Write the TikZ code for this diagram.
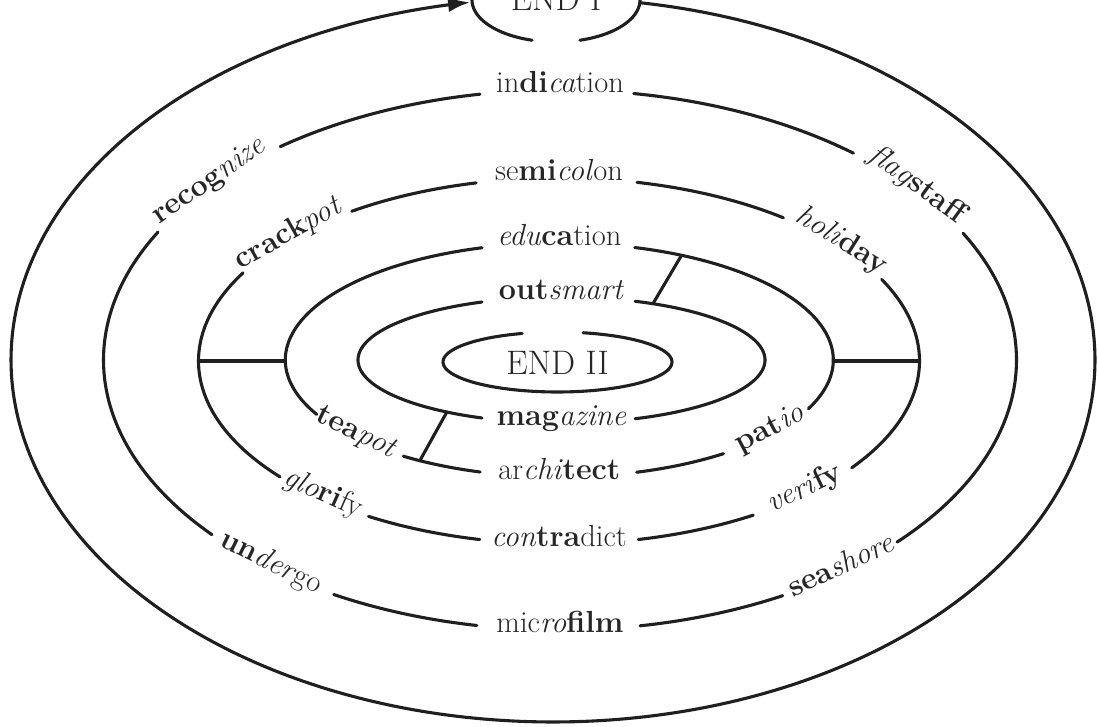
\documentclass[tikz,border=0pt]{standalone}
\usepackage{fontspec}
\usetikzlibrary{arrows.meta}
\newcommand{\wb}[1]{\textbf{#1}}
\newcommand{\wi}[1]{\textit{#1}}
\newcommand{\ringarc}[6]{\draw[ring] plot[domain=#5:#6, samples=100] ({#1+#3*cos(\x)},{#2-#4*sin(\x)});}
\newcommand{\ringpt}[6]{\coordinate (#1) at ({#2+#4*cos(#6)},{#3-#5*sin(#6)});}
\newcommand{\wordon}[7]{%
  \pgfmathsetmacro{\wdx}{#2+#4*cos(#6)}%
  \pgfmathsetmacro{\wdy}{#3-#5*sin(#6)}%
  \pgfmathsetmacro{\wdr}{atan(-#5*cos(#6)/(#4*sin(#6)))}%
  \node[word, rotate=\wdr] (#1) at (\wdx,\wdy) {#7};}
\begin{document}
\begin{tikzpicture}[x=1pt,y=-1pt,
  ring/.style={line width=3.1pt, line cap=round, black!88},
  word/.style={inner sep=0pt, text height=0.6em, text depth=0.16em, text=black!85,
    font=\fontsize{30.5}{32}\selectfont},
  endtext/.style={inner sep=0pt, text=black!85, font=\fontsize{34}{36}\selectfont}]
\useasboundingbox (0,0) rectangle (1098,727);
\clip (0,0) rectangle (1098,727);

% END I
\ringarc{556}{0}{84}{42}{-73.4}{253.4}
\node[endtext] (end1) at (556,-1) {END I};

% outer ring with arrow into END I
\draw[ring, {Latex[length=22pt,width=15pt]}-] plot[domain=98.8:440.8, samples=360]
  ({553+542*cos(\x)},{360-362*sin(\x)});

% ring 2
\ringarc{560}{360}{456.5}{270}{50}{80.7}
\ringarc{560}{360}{456.5}{270}{100.1}{127.8}
\ringarc{560}{360}{456.5}{270}{151.7}{220.3}
\ringarc{560}{360}{456.5}{270}{240.3}{259.5}
\ringarc{560}{360}{456.5}{270}{280.1}{299.2}
\ringarc{560}{360}{456.5}{270}{317.6}{388}
\wordon{ind}{560}{360}{456.5}{270}{90}{in\wb{di}\wi{ca}tion}
\wordon{rec}{560}{360}{456.5}{270}{139.7}{\wb{recog}\wi{nize}}
\wordon{und}{560}{360}{456.5}{270}{230.3}{\wb{un}\wi{der}go}
\wordon{mic}{560}{360}{456.5}{270}{270}{mic\wi{ro}\wb{film}}
\wordon{sea}{560}{360}{456.5}{270}{308.4}{\wb{sea}\wi{shore}}
\wordon{fla}{560}{360}{456.5}{270}{39}{\wi{flag}\wb{staff}}

% ring 3
\ringarc{559}{361}{360.5}{183}{51.5}{77.5}
\ringarc{559}{361}{360.5}{183}{103.3}{125.1}
\ringarc{559}{361}{360.5}{183}{151.2}{219.3}
\ringarc{559}{361}{360.5}{183}{238.1}{257.3}
\ringarc{559}{361}{360.5}{183}{282.7}{302.6}
\ringarc{559}{361}{360.5}{183}{324.3}{386.5}
\wordon{sem}{559}{361}{360.5}{183}{90}{se\wb{mi}\wi{col}on}
\wordon{cra}{559}{361}{360.5}{183}{138}{\wb{crack}\wi{pot}}
\wordon{glo}{559}{361}{360.5}{183}{228.7}{\wi{glo}\wb{ri}fy}
\wordon{con}{559}{361}{360.5}{183}{270}{\wi{con}\wb{tra}dict}
\wordon{ver}{559}{361}{360.5}{183}{313.5}{\wi{veri}\wb{fy}}
\wordon{hol}{559}{361}{360.5}{183}{39}{\wi{holi}\wb{day}}

% ring 4
\ringarc{559.3}{360}{274}{117}{106.4}{207.7}
\ringarc{559.3}{360}{274}{117}{235.3}{253.2}
\ringarc{559.3}{360}{274}{117}{286.4}{306.8}
\ringarc{559.3}{360}{274}{117}{335.4}{434}
\wordon{edu}{559.3}{360}{274}{117}{90}{\wi{edu}\wb{ca}tion}
\wordon{tea}{559.3}{360}{274}{117}{221.5}{\wb{tea}\wi{pot}}
\wordon{arc}{559.3}{360}{274}{117}{270}{ar\wi{chi}\wb{tect}}
\wordon{pat}{559.3}{360}{274}{117}{321}{\wb{pat}\wi{io}}

% ring 5
\ringarc{561.5}{360}{203.5}{63}{113}{247}
\ringarc{561.5}{360}{203.5}{63}{291.2}{428.8}
\wordon{out}{561.5}{360}{203.5}{63}{90}{\wb{out}\wi{smart}}
\wordon{mag}{561.5}{360}{203.5}{63}{270}{\wb{mag}\wi{azine}}

% END II
\ringarc{557.5}{362}{114.5}{30}{108}{437.1}
\node[endtext] (end2) at (557.5,362.5) {END II};

% connectors
\ringpt{l3}{559}{361}{360.5}{183}{180}
\ringpt{l4}{559.3}{361}{274}{117}{180}
\ringpt{r4}{559.3}{361}{274}{117}{0}
\ringpt{r3}{559}{361}{360.5}{183}{0}
\ringpt{d4}{559.3}{360}{274}{117}{63.5}
\ringpt{d5}{561.5}{360}{203.5}{63}{63.3}
\ringpt{e5}{561.5}{360}{203.5}{63}{235.7}
\ringpt{e4}{559.3}{360}{274}{117}{239.4}
\draw[ring] (l3) -- (l4);
\draw[ring] (r4) -- (r3);
\draw[ring] (d4) -- (d5);
\draw[ring] (e5) -- (e4);
\end{tikzpicture}
\end{document}
